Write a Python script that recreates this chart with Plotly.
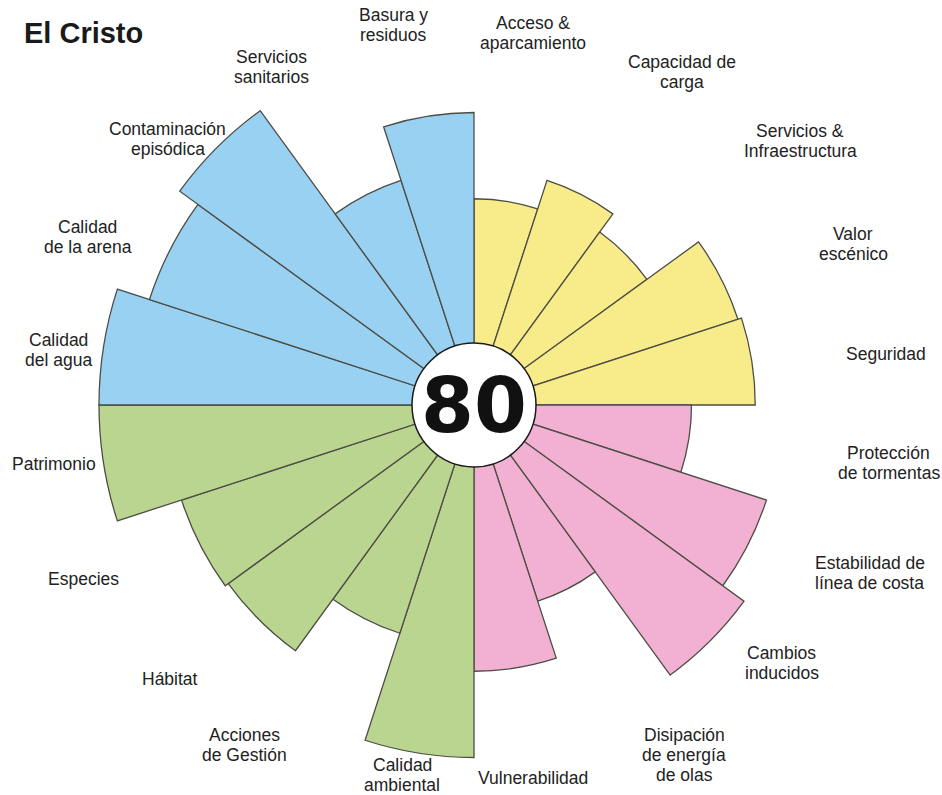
import math
import plotly.graph_objects as go

# -------- data (clockwise from the top) --------
categories = [
    "Acceso &<br>aparcamiento", "Capacidad de<br>carga", "Servicios &<br>Infraestructura",
    "Valor<br>escénico", "Seguridad",
    "Protección<br>de tormentas", "Estabilidad de<br>línea de costa", "Cambios<br>inducidos",
    "Disipación<br>de energía<br>de olas", "Vulnerabilidad",
    "Calidad<br>ambiental", "Acciones<br>de Gestión", "Hábitat", "Especies", "Patrimonio",
    "Calidad<br>del agua", "Calidad<br>de la arena", "Contaminación<br>episódica",
    "Servicios<br>sanitarios", "Basura y<br>residuos",
]
groups = ["uso"] * 5 + ["riesgo"] * 5 + ["conservacion"] * 5 + ["calidad"] * 5
values = [55, 63, 57, 74, 75,
          58, 82, 89, 55, 71,
          94, 64, 81, 82, 100,
          100, 91, 97, 63, 78]
score = 80
beach = "El Cristo"

# -------- styling --------
group_colors = {"uso": "#F8EC8A", "riesgo": "#F2B0D2", "conservacion": "#B9D58F", "calidad": "#98D1F2"}
n = len(categories)
step = 360 / n
theta = [step / 2 + i * step for i in range(n)]

# label placement around the rose: angle (deg, clockwise from top) and distance from centre (px)
label_angle = [9, 32, 51, 67, 83, 98, 113, 130, 149, 171,
               191, 214, 228, 246, 262, 277.5, 293.5, 311, 329, 348]
label_dist = [377, 393, 420, 412, 415, 419, 430, 402, 408, 378,
              377, 410, 409, 428, 424, 419, 421, 406, 394, 389]
line_gap = 20  # px between label lines

W, H = 942, 795
cx, cy, R = 474, 390, 390          # polar centre (px from left / bottom) and radius
rmax = 104

fig = go.Figure()
fig.add_trace(go.Barpolar(
    r=values, theta=theta, width=[step] * n,
    marker=dict(color=[group_colors[g] for g in groups],
                line=dict(color="#4d4d45", width=1.3)),
    hoverinfo="skip",
))

annotations = []
for txt, a, d in zip(categories, label_angle, label_dist):
    lines = txt.split("<br>")
    k = len(lines)
    for i, ln in enumerate(lines):
        annotations.append(dict(
            text=ln, xref="paper", yref="paper",
            x=(cx + d * math.sin(math.radians(a))) / W,
            y=(cy + d * math.cos(math.radians(a))) / H,
            yshift=((k - 1) / 2 - i) * line_gap,
            xanchor="center", yanchor="middle", align="center", showarrow=False,
            font=dict(family="Liberation Sans, Arial", size=17.5, color="#222222"),
        ))
annotations.append(dict(
    text="<b>%d</b>" % score, xref="paper", yref="paper",
    x=cx / W, y=cy / H, xanchor="center", yanchor="middle", showarrow=False,
    font=dict(family="DejaVu Sans", size=76, color="#111111")))
annotations.append(dict(
    text="<b>%s</b>" % beach, xref="paper", yref="paper",
    x=22 / W, y=1 - 33 / H, xanchor="left", yanchor="middle", showarrow=False,
    font=dict(family="Liberation Sans, Arial", size=29, color="#1a1a1a")))

fig.update_layout(
    width=W, height=H,
    margin=dict(l=0, r=0, t=0, b=0),
    paper_bgcolor="white",
    showlegend=False,
    polar=dict(
        domain=dict(x=[(cx - R) / W, (cx + R) / W], y=[(cy - R) / H, (cy + R) / H]),
        bgcolor="white",
        radialaxis=dict(visible=False, range=[0, rmax]),
        angularaxis=dict(visible=False, rotation=90, direction="clockwise"),
    ),
    shapes=[dict(
        type="circle", xref="paper", yref="paper",
        xsizemode="pixel", ysizemode="pixel",
        xanchor=cx / W, yanchor=cy / H,
        x0=-62, x1=62, y0=-62, y1=62,
        fillcolor="white", line=dict(color="#1a1a1a", width=1.5), layer="above",
    )],
    annotations=annotations,
)

fig.write_html("out.html", config={"displayModeBar": False},
               post_script="document.body.style.margin='0';")
